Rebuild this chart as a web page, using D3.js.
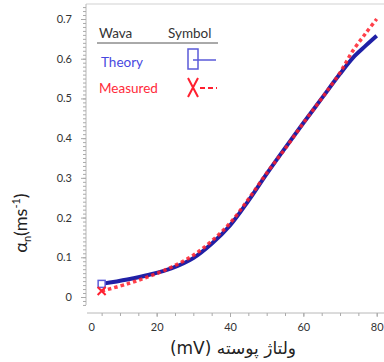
<!DOCTYPE html>
<html>
<head>
<meta charset="utf-8">
<script src="https://cdn.jsdelivr.net/npm/d3@7"></script>
<style>
  body { margin: 0; background: #fff; }
  svg { display: block; font-family: Lato, "Open Sans", "DejaVu Sans", sans-serif; }
</style>
</head>
<body>
<script>
//data
var theoryX = [5, 12, 18, 24, 30, 35, 40, 45, 50, 55, 60, 65, 70, 74, 77, 80];
var theoryY = [0.033, 0.044, 0.056, 0.072, 0.098, 0.134, 0.180, 0.242, 0.310, 0.375, 0.438, 0.500, 0.562, 0.607, 0.633, 0.658];
var measuredX = [5, 12, 18, 24, 30, 35, 40, 45, 50, 55, 60, 65, 70, 73.5, 77, 80];
var measuredY = [0.015, 0.033, 0.052, 0.075, 0.105, 0.141, 0.186, 0.246, 0.312, 0.373, 0.438, 0.500, 0.565, 0.620, 0.664, 0.700];
var xTicks = [0, 20, 40, 60, 80];
var yTicks = [0, 0.1, 0.2, 0.3, 0.4, 0.5, 0.6, 0.7];
var legendLabels = ["Theory", "Measured"];

var width = 384, height = 362;

var svg = d3.select("body").append("svg")
    .attr("width", width)
    .attr("height", height);

//scales
var x = d3.scaleLinear().domain([0, 80]).range([83.3, 376.7]);
var y = d3.scaleLinear().domain([0, 0.7]).range([297, 19]);

//frame lines
svg.append("line").attr("x1", 86).attr("x2", 384).attr("y1", 4).attr("y2", 4)
    .attr("stroke", "#e0e0e0").attr("stroke-width", 1.5);
svg.append("line").attr("x1", 86).attr("x2", 86).attr("y1", 4).attr("y2", 305)
    .attr("stroke", "#b8b8b8");
svg.append("line").attr("x1", 87).attr("x2", 384).attr("y1", 313).attr("y2", 313)
    .attr("stroke", "#b8b8b8");

//y axis, minor then major
var yMinor = svg.append("g").attr("transform", "translate(86,0)")
    .call(d3.axisLeft(y).tickValues(d3.range(-2, 74).map(function(d){ return d / 100; }))
        .tickSize(3).tickFormat(""));
var yMajor = svg.append("g").attr("transform", "translate(86,0)")
    .call(d3.axisLeft(y).tickValues(yTicks).tickSize(5).tickPadding(9)
        .tickFormat(function(d){ return d === 0 ? "0" : d3.format(".1f")(d); }));

//x axis, minor then major
var xMinor = svg.append("g").attr("transform", "translate(0,313)")
    .call(d3.axisBottom(x).tickValues(d3.range(1, 17).map(function(d){ return d * 5; }))
        .tickSize(3).tickFormat(""));
var xMajor = svg.append("g").attr("transform", "translate(0,313)")
    .call(d3.axisBottom(x).tickValues(xTicks).tickSize(4).tickPadding(6));
xMajor.selectAll(".tick").filter(function(d){ return d === 0; }).select("line").remove();
xMajor.selectAll(".tick text").filter(function(d){ return d === 0; }).attr("dx", 8);

[yMinor, yMajor, xMinor, xMajor].forEach(function(g){
    g.select(".domain").remove();
    g.selectAll(".tick line").attr("stroke", "#aaa");
    g.selectAll(".tick text").attr("fill", "#333").style("font-size", "11px")
        .style("font-family", "Lato, 'Open Sans', sans-serif");
});

//curves
var line = d3.line()
    .x(function(d){ return x(d[0]); })
    .y(function(d){ return y(d[1]); })
    .curve(d3.curveCatmullRom.alpha(0.5));

var theory = d3.zip(theoryX, theoryY);
var measured = d3.zip(measuredX, measuredY);

svg.append("path").datum(theory)
    .attr("d", line)
    .attr("fill", "none")
    .attr("stroke", "#2020a6")
    .attr("stroke-width", 4);

svg.append("path").datum(measured)
    .attr("d", line)
    .attr("fill", "none")
    .attr("stroke", "#ff1f2a")
    .attr("stroke-opacity", 0.85)
    .attr("stroke-width", 3.5)
    .attr("stroke-dasharray", "3.5,3");

//start markers
svg.append("rect")
    .attr("x", x(theoryX[0]) - 3.5).attr("y", y(theoryY[0]) - 3.5)
    .attr("width", 7).attr("height", 7)
    .attr("fill", "#fff").attr("stroke", "#5a5ad8").attr("stroke-width", 1.5);
var mx = x(measuredX[0]), my = y(measuredY[0]);
svg.append("path")
    .attr("d", "M" + (mx - 4) + "," + (my - 4) + "L" + (mx + 4) + "," + (my + 4) +
        "M" + (mx + 4) + "," + (my - 4) + "L" + (mx - 4) + "," + (my + 4))
    .attr("stroke", "#ff2030").attr("stroke-width", 2);

//legend
var legend = svg.append("g").style("font-size", "13.5px");
legend.append("text").attr("x", 99).attr("y", 38).attr("fill", "#333").text("Wava");
legend.append("text").attr("x", 168).attr("y", 38).attr("fill", "#333").text("Symbol");
legend.append("line").attr("x1", 97).attr("x2", 218).attr("y1", 43).attr("y2", 43)
    .attr("stroke", "#555");
legend.append("text").attr("x", 101).attr("y", 67).attr("fill", "#4848e0").text(legendLabels[0]);
legend.append("text").attr("x", 99).attr("y", 93).attr("fill", "#ff2a3a").text(legendLabels[1]);

//legend symbols
legend.append("rect").attr("x", 188).attr("y", 49).attr("width", 10).attr("height", 20)
    .attr("fill", "none").attr("stroke", "#5a5ad8").attr("stroke-width", 1.5);
legend.append("line").attr("x1", 193).attr("x2", 216).attr("y1", 60).attr("y2", 60)
    .attr("stroke", "#5a5ad8").attr("stroke-width", 1.5);
legend.append("path").attr("d", "M188,78L198,97M198,78L188,97")
    .attr("stroke", "#ff2030").attr("stroke-width", 2);
legend.append("line").attr("x1", 200).attr("x2", 217).attr("y1", 88).attr("y2", 88)
    .attr("stroke", "#ff2030").attr("stroke-width", 2).attr("stroke-dasharray", "5,3");

//axis titles
var yTitle = svg.append("text")
    .attr("transform", "translate(27,223) rotate(-90)")
    .attr("text-anchor", "middle")
    .attr("fill", "#222")
    .style("font-size", "18px");
yTitle.append("tspan").text("α");
yTitle.append("tspan").attr("dy", 4).style("font-size", "11px").text("n");
yTitle.append("tspan").attr("dy", -4).text("(ms");
yTitle.append("tspan").attr("dy", -7).style("font-size", "11px").text("-1");
yTitle.append("tspan").attr("dy", 7).text(")");

svg.append("text")
    .attr("x", 233).attr("y", 354)
    .attr("text-anchor", "middle")
    .attr("fill", "#222")
    .style("font-size", "17px")
    .style("font-family", "'DejaVu Sans', sans-serif")
    .text("(mV) ولتاژ پوسته");
</script>
</body>
</html>
